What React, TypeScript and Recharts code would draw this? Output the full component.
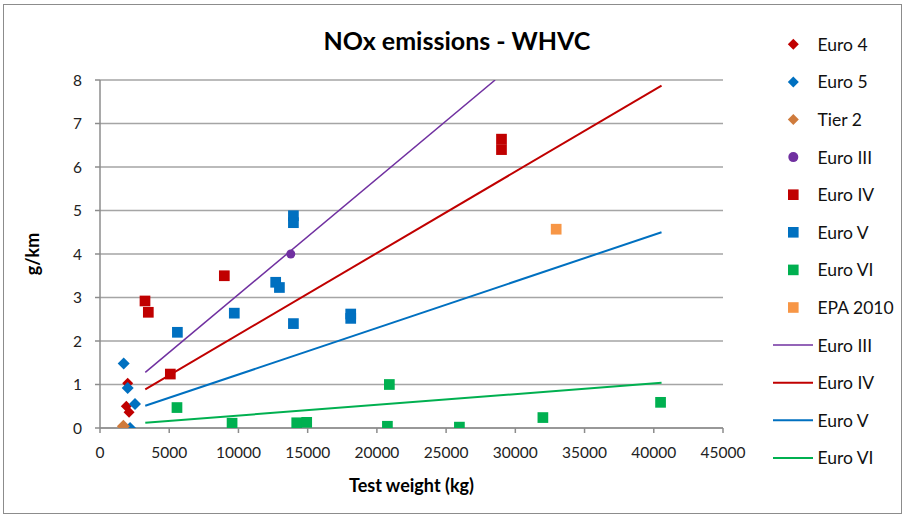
import React from 'react';
import { ComposedChart, Scatter, Line, XAxis, YAxis, CartesianGrid, Label } from 'recharts';

// ---------- data ----------
const xTicks = [0, 5000, 10000, 15000, 20000, 25000, 30000, 35000, 40000, 45000];
const yTicks = [0, 1, 2, 3, 4, 5, 6, 7, 8];

const euro4 = [
  { x: 2000, y: 1.03 },
  { x: 1900, y: 0.5 },
  { x: 2100, y: 0.36 },
];
const euro5 = [
  { x: 1710, y: 1.48 },
  { x: 2000, y: 0.92 },
  { x: 2530, y: 0.55 },
  { x: 2170, y: 0.0 },
];
const tier2 = [{ x: 1690, y: 0.04 }];
const euroIII = [{ x: 13780, y: 4.0 }];
const euroIV = [
  { x: 3250, y: 2.92 },
  { x: 3490, y: 2.66 },
  { x: 8980, y: 3.5 },
  { x: 5080, y: 1.24 },
  { x: 29000, y: 6.64 },
  { x: 29000, y: 6.4 },
];
const euroV = [
  { x: 5590, y: 2.2 },
  { x: 9700, y: 2.64 },
  { x: 12690, y: 3.35 },
  { x: 12960, y: 3.23 },
  { x: 13970, y: 4.88 },
  { x: 13970, y: 4.72 },
  { x: 13970, y: 2.4 },
  { x: 18110, y: 2.62 },
  { x: 18110, y: 2.52 },
];
const euroVI = [
  { x: 5560, y: 0.47 },
  { x: 9540, y: 0.11 },
  { x: 14210, y: 0.12 },
  { x: 14930, y: 0.13 },
  { x: 20900, y: 1.0 },
  { x: 20760, y: 0.04 },
  { x: 25960, y: 0.02 },
  { x: 31990, y: 0.24 },
  { x: 40490, y: 0.59 },
];
const epa2010 = [{ x: 32950, y: 4.57 }];

const euroIIILine = [
  { x: 3270, y: 1.28 },
  { x: 28540, y: 8.0 },
];
const euroIVLine = [
  { x: 3270, y: 0.89 },
  { x: 40560, y: 7.87 },
];
const euroVLine = [
  { x: 3270, y: 0.51 },
  { x: 40560, y: 4.5 },
];
const euroVILine = [
  { x: 3270, y: 0.12 },
  { x: 40560, y: 1.04 },
];

// ---------- styles ----------
const RED = '#C00000';
const BLUE = '#0070C0';
const ORANGE = '#CF7B3C';
const PURPLE = '#7030A0';
const GREEN = '#00B050';
const LORANGE = '#F79646';
const FONT = 'Lato, "Liberation Sans", sans-serif';

type Shape = 'diamond' | 'square' | 'circle' | 'line';

const markerShape = (shape: Shape, color: string, size: number) => (props: any) => {
  const { cx, cy } = props;
  if (cx == null || cy == null) return <g />;
  const r = size / 2;
  if (shape === 'diamond') {
    return (
      <polygon
        points={`${cx},${cy - r} ${cx + r},${cy} ${cx},${cy + r} ${cx - r},${cy}`}
        fill={color}
      />
    );
  }
  if (shape === 'circle') return <circle cx={cx} cy={cy} r={r} fill={color} />;
  return <rect x={cx - r} y={cy - r} width={size} height={size} fill={color} />;
};

const legendItems: { name: string; shape: Shape; color: string }[] = [
  { name: 'Euro 4', shape: 'diamond', color: RED },
  { name: 'Euro 5', shape: 'diamond', color: BLUE },
  { name: 'Tier 2', shape: 'diamond', color: ORANGE },
  { name: 'Euro III', shape: 'circle', color: PURPLE },
  { name: 'Euro IV', shape: 'square', color: RED },
  { name: 'Euro V', shape: 'square', color: BLUE },
  { name: 'Euro VI', shape: 'square', color: GREEN },
  { name: 'EPA 2010', shape: 'square', color: LORANGE },
  { name: 'Euro III', shape: 'line', color: PURPLE },
  { name: 'Euro IV', shape: 'line', color: RED },
  { name: 'Euro V', shape: 'line', color: BLUE },
  { name: 'Euro VI', shape: 'line', color: GREEN },
];

const LegendBox = () => (
  <svg
    width={140}
    height={480}
    style={{ position: 'absolute', left: 765, top: 20 }}
  >
    {legendItems.map((it, i) => {
      const cy = 24.3 + i * 37.6;
      const cx = 28.3;
      let mark: React.ReactNode;
      if (it.shape === 'line') {
        mark = <line x1={8} x2={48} y1={cy} y2={cy} stroke={it.color} strokeWidth={it.color === PURPLE ? 1.5 : 2} />;
      } else if (it.shape === 'diamond') {
        mark = (
          <polygon
            points={`${cx},${cy - 5.5} ${cx + 5.5},${cy} ${cx},${cy + 5.5} ${cx - 5.5},${cy}`}
            fill={it.color}
          />
        );
      } else if (it.shape === 'circle') {
        mark = <circle cx={cx} cy={cy} r={5} fill={it.color} />;
      } else {
        mark = <rect x={cx - 5.3} y={cy - 5.3} width={10.6} height={10.6} fill={it.color} />;
      }
      return (
        <g key={i}>
          {mark}
          <text
            x={52.5}
            y={cy}
            dominantBaseline="central"
            fontFamily={FONT}
            fontSize={17.5}
            fill="#111"
          >
            {it.name}
          </text>
        </g>
      );
    })}
  </svg>
);

export default function App() {
  return (
    <div
      style={{
        position: 'absolute',
        left: 0,
        top: 0,
        width: 907,
        height: 519,
        background: '#fff',
        fontFamily: FONT,
      }}
    >
      <div
        style={{
          position: 'absolute',
          left: 3,
          top: 4,
          width: 899,
          height: 510,
          border: '1px solid #8C8C8C',
          boxSizing: 'border-box',
        }}
      />
      <div
        style={{
          position: 'absolute',
          left: 257,
          width: 400,
          top: 23,
          textAlign: 'center',
          fontFamily: FONT,
          fontWeight: 700,
          fontSize: 25,
          lineHeight: '34px',
          color: '#000',
        }}
      >
        NOx emissions - WHVC
      </div>
      <div style={{ position: 'absolute', left: 0, top: 0 }}>
        <ComposedChart
          width={907}
          height={519}
          margin={{ top: 80, right: 184, bottom: 61, left: 20 }}
        >
          <CartesianGrid vertical={false} stroke="#A5A5A5" strokeWidth={1.5} />
          <XAxis
            dataKey="x"
            type="number"
            domain={[0, 45000]}
            ticks={xTicks}
            interval={0}
            height={30}
            tickSize={5}
            tickMargin={14}
            stroke="#8C8C8C"
            tick={{ fill: '#222', fontSize: 15.5, fontFamily: FONT }}
            axisLine={{ stroke: '#8C8C8C', strokeWidth: 1.5 }}
            tickLine={{ stroke: '#8C8C8C', strokeWidth: 1.5 }}
          >
            <Label
              value="Test weight (kg)"
              position="bottom"
              offset={21}
              style={{ fontFamily: FONT, fontSize: 18, fontWeight: 700, fill: '#000' }}
            />
          </XAxis>
          <YAxis
            dataKey="y"
            type="number"
            domain={[0, 8]}
            ticks={yTicks}
            interval={0}
            width={80}
            tickSize={5}
            tickMargin={13}
            allowDataOverflow
            stroke="#8C8C8C"
            tick={{ fill: '#222', fontSize: 15.5, fontFamily: FONT }}
            axisLine={{ stroke: '#8C8C8C', strokeWidth: 1.5 }}
            tickLine={{ stroke: '#8C8C8C', strokeWidth: 1.5 }}
          >
            <Label
              content={(p: any) => {
                const vb = p.viewBox || {};
                const cy = (vb.y ?? 80) + (vb.height ?? 348) / 2;
                return (
                  <text
                    x={32}
                    y={cy}
                    transform={`rotate(-90, 32, ${cy})`}
                    textAnchor="middle"
                    dominantBaseline="central"
                    fontFamily={FONT}
                    fontSize={18}
                    fontWeight={700}
                    fill="#000"
                  >
                    g/km
                  </text>
                );
              }}
            />
          </YAxis>

          <Line data={euroIIILine} dataKey="y" stroke={PURPLE} strokeWidth={1.5} dot={false} isAnimationActive={false} legendType="none" />
          <Line data={euroIVLine} dataKey="y" stroke={RED} strokeWidth={2} dot={false} isAnimationActive={false} legendType="none" />
          <Line data={euroVLine} dataKey="y" stroke={BLUE} strokeWidth={2} dot={false} isAnimationActive={false} legendType="none" />
          <Line data={euroVILine} dataKey="y" stroke={GREEN} strokeWidth={2} dot={false} isAnimationActive={false} legendType="none" />

          <Scatter data={euro4} dataKey="y" shape={markerShape('diamond', RED, 11)} isAnimationActive={false} />
          <Scatter data={euro5} dataKey="y" shape={markerShape('diamond', BLUE, 12)} isAnimationActive={false} />
          <Scatter data={tier2} dataKey="y" shape={markerShape('diamond', ORANGE, 13)} isAnimationActive={false} />
          <Scatter data={euroIII} dataKey="y" shape={markerShape('circle', PURPLE, 9)} isAnimationActive={false} />
          <Scatter data={euroIV} dataKey="y" shape={markerShape('square', RED, 10.7)} isAnimationActive={false} />
          <Scatter data={euroV} dataKey="y" shape={markerShape('square', BLUE, 10.7)} isAnimationActive={false} />
          <Scatter data={euroVI} dataKey="y" shape={markerShape('square', GREEN, 10.7)} isAnimationActive={false} />
          <Scatter data={epa2010} dataKey="y" shape={markerShape('square', LORANGE, 10.7)} isAnimationActive={false} />
        </ComposedChart>
      </div>
      <LegendBox />
    </div>
  );
}
